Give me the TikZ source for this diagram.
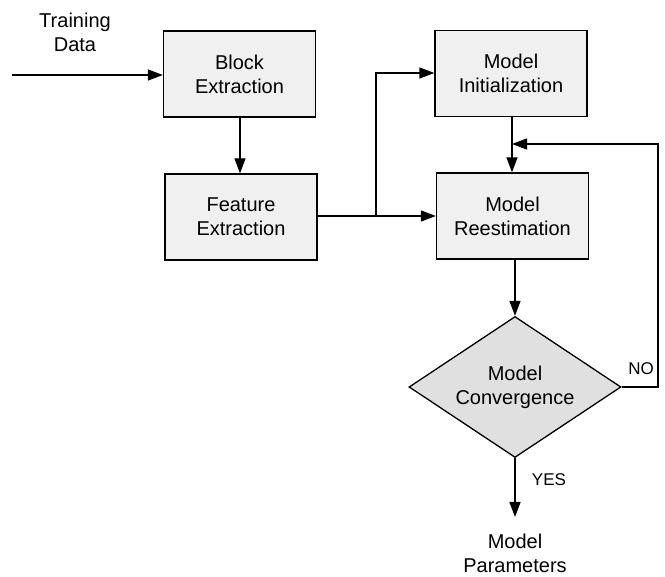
\documentclass[tikz,border=0pt]{standalone}
\usepackage{fontspec}
\setmainfont{Liberation Sans}
\usetikzlibrary{shapes.geometric,arrows.meta}
\begin{document}
\begin{tikzpicture}[x=1pt,y=-1pt,
  box/.style={draw=black,line width=1.3pt,fill=gray!12,minimum width=152pt,minimum height=86pt,align=center,inner sep=0pt,font=\fontsize{20}{24}\selectfont},
  dec/.style={draw=black,line width=1.3pt,fill=gray!24,shape=diamond,shape aspect=1.5,minimum width=212pt,minimum height=141pt,align=center,inner sep=0pt,font=\fontsize{20}{24}\selectfont},
  lbl/.style={align=center,inner sep=0pt,font=\fontsize{20}{24}\selectfont},
  conn/.style={line width=1.3pt,-{Triangle[length=15pt,width=11pt]}},
  wire/.style={line width=1.3pt}]
\useasboundingbox (0,0) rectangle (665,577);
\node[box] (block) at (239.5,74) {Block\\Extraction};
\node[box] (feature) at (241,217) {Feature\\Extraction};
\node[box] (init) at (511,73.5) {Model\\Initialization};
\node[box] (reest) at (512.5,216) {Model\\Reestimation};
\node[dec] (conv) at (515,387) {Model\\Convergence};
\node[lbl] (train) at (75,32) {Training\\Data};
\node[lbl] (params) at (515,553) {Model\\Parameters};
\node[lbl,font=\fontsize{17}{20}\selectfont] (yes) at (549,480) {YES};
\node[lbl,font=\fontsize{17}{20}\selectfont] (no) at (641,369) {NO};
\coordinate (src) at (12,75);
\coordinate (junc) at (376,216);
\coordinate (fbr) at (658,387);
\coordinate (fbt) at (658,144);
\coordinate (fbend) at (512,144);
\coordinate (out) at (515,517);
\draw[conn] (src) -- (block.west |- src);
\draw[conn] (block.south -| 240,0) -- (feature.north -| 240,0);
\draw[wire] (feature.east |- junc) -- (junc);
\draw[conn] (junc) -- (reest.west |- junc);
\draw[conn] (junc) |- (init.west |- 0,73);
\draw[conn] (init.south -| fbend) -- (reest.north -| fbend);
\draw[conn] (conv.east) -- (fbr) -- (fbt) -- (fbend);
\draw[conn] (reest.south -| conv.north) -- (conv.north);
\draw[conn] (conv.south) -- (out);
\end{tikzpicture}
\end{document}
